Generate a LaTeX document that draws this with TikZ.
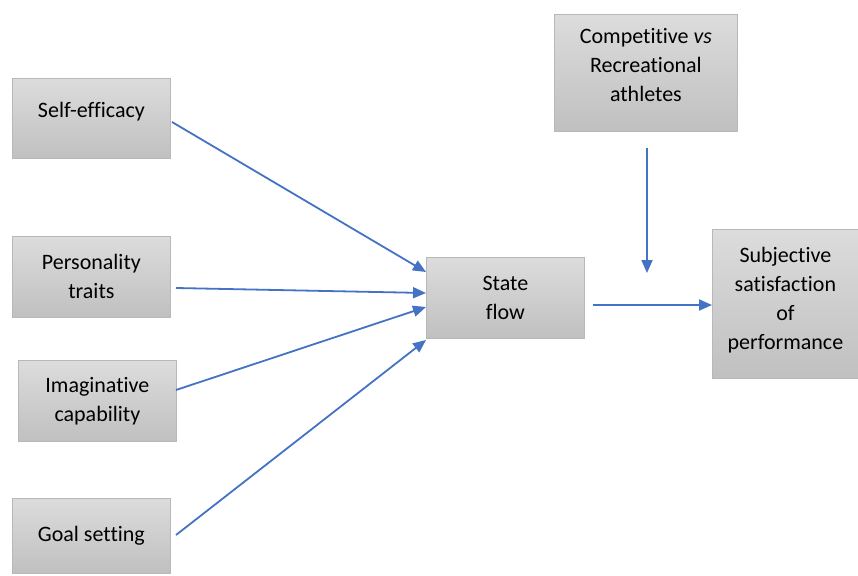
\documentclass[tikz,border=0pt]{standalone}
\usepackage{fontspec}
\setmainfont[Ligatures=NoCommon]{Carlito}
\usetikzlibrary{arrows.meta}
\definecolor{boxtop}{HTML}{DCDCDC}
\definecolor{boxbot}{HTML}{C0C0C0}
\definecolor{boxline}{HTML}{B8B8B8}
\definecolor{arr}{HTML}{4472C4}
\tikzset{
  box/.style={draw=boxline, line width=0.8pt, top color=boxtop, bottom color=boxbot,
    inner sep=0pt, align=center, font=\fontsize{22}{29}\selectfont, anchor=north west},
  conn/.style={draw=arr, line width=1.8pt, -{Triangle[length=13pt,width=11pt]}}
}
\begin{document}
\begin{tikzpicture}[x=1pt,y=-1pt]
\useasboundingbox (0,0) rectangle (858,575);
\node[box, minimum width=158pt, minimum height=80pt] (se) at (12,78) {Self-efficacy\\[-12pt]};
\node[box, minimum width=158pt, minimum height=81pt] (pt) at (12,236) {Personality\\traits};
\node[box, minimum width=158pt, minimum height=81pt] (ic) at (18,360) {Imaginative\\capability};
\node[box, minimum width=158pt, minimum height=75pt] (gs) at (12,498) {Goal setting};
\node[box, minimum width=158pt, minimum height=81pt] (sf) at (426,257) {State\\flow};
\node[box, minimum width=183pt, minimum height=117pt] (cr) at (554,14) {Competitive \textit{vs}\\Recreational\\athletes\\[-14pt]};
\node[box, minimum width=146pt, minimum height=149pt] (ss) at (712,229) {Subjective\\satisfaction\\of\\performance\\[-17pt]};

\coordinate (a1) at (172,122);
\coordinate (b1) at (426,272);
\coordinate (a2) at (176,288);
\coordinate (b2) at (426,293);
\coordinate (a3) at (176,390);
\coordinate (b3) at (426,307);
\coordinate (a4) at (176,535);
\coordinate (b4) at (426,340);
\coordinate (a5) at (593,305);
\coordinate (b5) at (712,305);
\coordinate (a6) at (647,148);
\coordinate (b6) at (647,273);

\draw[conn] (a1) -- (b1);
\draw[conn] (a2) -- (b2);
\draw[conn] (a3) -- (b3);
\draw[conn] (a4) -- (b4);
\draw[conn] (a5) -- (b5);
\draw[conn] (a6) -- (b6);
\end{tikzpicture}
\end{document}
